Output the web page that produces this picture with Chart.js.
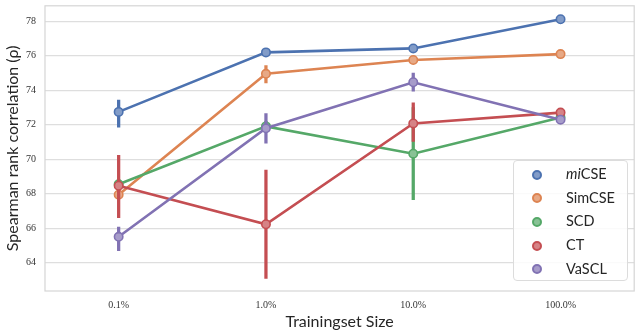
<!DOCTYPE html>
<html>
<head>
<meta charset="utf-8">
<script src="https://cdn.jsdelivr.net/npm/chart.js@4/dist/chart.umd.min.js"></script>
<style>
  body { margin: 0; background: #fff; }
  #wrap { position: relative; width: 640px; height: 333px; }
  #legend {
    position: absolute; left: 513px; top: 160px; width: 115px; height: 121px;
    box-sizing: border-box; border: 1px solid #dcdcdc; border-radius: 4px;
    background: rgba(255,255,255,0.85); padding-top: 1px;
    font-family: Lato, sans-serif; font-size: 14.5px; color: #262626;
  }
  .item { position: relative; height: 23.7px; line-height: 23.7px; }
  .dot { position: absolute; left: 18px; top: 7.5px; width: 6px; height: 6px; border-radius: 50%; border: 2px solid; }
  .lbl { position: absolute; left: 52px; }
</style>
</head>
<body>
<div id="wrap">
  <canvas id="chart" width="640" height="333"></canvas>
  <div id="legend"></div>
</div>
<script>
var categories = ['0.1%', '1.0%', '10.0%', '100.0%'];
var yTicks = [64, 66, 68, 70, 72, 74, 76, 78];

var names = ['miCSE', 'SimCSE', 'SCD', 'CT', 'VaSCL'];
var legendLabels = ['<i>mi</i>CSE', 'SimCSE', 'SCD', 'CT', 'VaSCL'];
var colors = ['#4c72b0', '#dd8452', '#55a868', '#c44e52', '#8172b3'];

var miCSE = [72.74, 76.19, 76.42, 78.11];
var miCSELow = [71.85, 76.02, 76.22, 78.02];
var miCSEHigh = [73.43, 76.36, 76.62, 78.2];

var SimCSE = [67.94, 74.95, 75.75, 76.09];
var SimCSELow = [67.75, 74.42, 75.62, 76.0];
var SimCSEHigh = [68.15, 75.43, 75.88, 76.18];

var SCD = [68.55, 71.9, 70.32, 72.42];
var SCDLow = [68.3, 71.6, 67.66, 72.32];
var SCDHigh = [68.8, 72.2, 72.99, 72.52];

var CT = [68.46, 66.23, 72.07, 72.7];
var CTLow = [66.61, 63.09, 71.03, 72.6];
var CTHigh = [70.23, 69.37, 73.27, 72.8];

var VaSCL = [65.5, 71.79, 74.46, 72.29];
var VaSCLLow = [64.7, 70.93, 73.94, 72.2];
var VaSCLHigh = [66.07, 72.65, 74.99, 72.38];

var values = [miCSE, SimCSE, SCD, CT, VaSCL];
var lows = [miCSELow, SimCSELow, SCDLow, CTLow, VaSCLLow];
var highs = [miCSEHigh, SimCSEHigh, SCDHigh, CTHigh, VaSCLHigh];

function tint(hex, a) {
  var r = parseInt(hex.substr(1, 2), 16), g = parseInt(hex.substr(3, 2), 16), b = parseInt(hex.substr(5, 2), 16);
  r = Math.round(r + (255 - r) * a); g = Math.round(g + (255 - g) * a); b = Math.round(b + (255 - b) * a);
  return 'rgb(' + r + ',' + g + ',' + b + ')';
}

var datasets = [];
names.forEach(function(name, k) {
  var n = names.length - 1 - k;
  datasets.push({
    type: 'bar',
    label: name + ' ci',
    data: lows[k].map(function(l, i) { return [l, highs[k][i]]; }),
    backgroundColor: colors[k],
    barThickness: 2.6,
    grouped: false,
    order: n * 2 + 1
  });
  datasets.push({
    type: 'line',
    label: name,
    data: values[k],
    borderColor: colors[k],
    borderWidth: 2.6,
    pointRadius: 4.2,
    pointBorderWidth: 1.6,
    pointBackgroundColor: tint(colors[k], 0.3),
    pointBorderColor: colors[k],
    fill: false,
    tension: 0,
    order: n * 2
  });
});

var frame = {
  id: 'frame',
  beforeDatasetsDraw: function(chart) {
    var a = chart.chartArea, c = chart.ctx;
    c.save();
    c.strokeStyle = '#d5d5d5';
    c.lineWidth = 1.2;
    c.strokeRect(a.left, a.top, a.right - a.left, a.bottom - a.top);
    c.restore();
  }
};

function noPad(s) {
  s.paddingTop = 0; s.paddingBottom = 0; s.paddingLeft = 0; s.paddingRight = 0;
}

new Chart(document.getElementById('chart').getContext('2d'), {
  data: { labels: categories, datasets: datasets },
  plugins: [frame],
  options: {
    responsive: false,
    animation: false,
    layout: { padding: { top: 2, right: 0, left: 0, bottom: 0 } },
    plugins: { legend: { display: false }, tooltip: { enabled: false } },
    scales: {
      x: {
        offset: true,
        grid: { display: false, drawTicks: false },
        border: { display: false },
        ticks: { color: '#333', padding: 8, font: { family: 'Liberation Serif', size: 10 } },
        title: { display: true, text: 'Trainingset Size', color: '#262626', padding: { top: 0, bottom: 2 }, font: { family: 'Lato', size: 16 } },
        afterFit: function(s) { s.height = 42; noPad(s); }
      },
      y: {
        min: 62.36,
        max: 78.89,
        afterBuildTicks: function(s) { s.ticks = yTicks.map(function(v) { return { value: v }; }); },
        grid: { color: '#dedede', lineWidth: 1.2, drawTicks: false },
        border: { display: false },
        ticks: { color: '#333', padding: 9, font: { family: 'Liberation Serif', size: 10 } },
        title: { display: true, text: 'Spearman rank correlation (ρ)', color: '#262626', padding: { top: 3, bottom: 0 }, font: { family: 'Lato', size: 16 } },
        afterFit: function(s) { s.width = 45; noPad(s); }
      }
    }
  }
});

var legend = document.getElementById('legend');
names.forEach(function(name, k) {
  var item = document.createElement('div');
  item.className = 'item';
  item.innerHTML = '<span class="dot" style="border-color:' + colors[k] + ';background:' + tint(colors[k], 0.3) + '"></span>' +
    '<span class="lbl">' + legendLabels[k] + '</span>';
  legend.appendChild(item);
});
</script>
</body>
</html>
